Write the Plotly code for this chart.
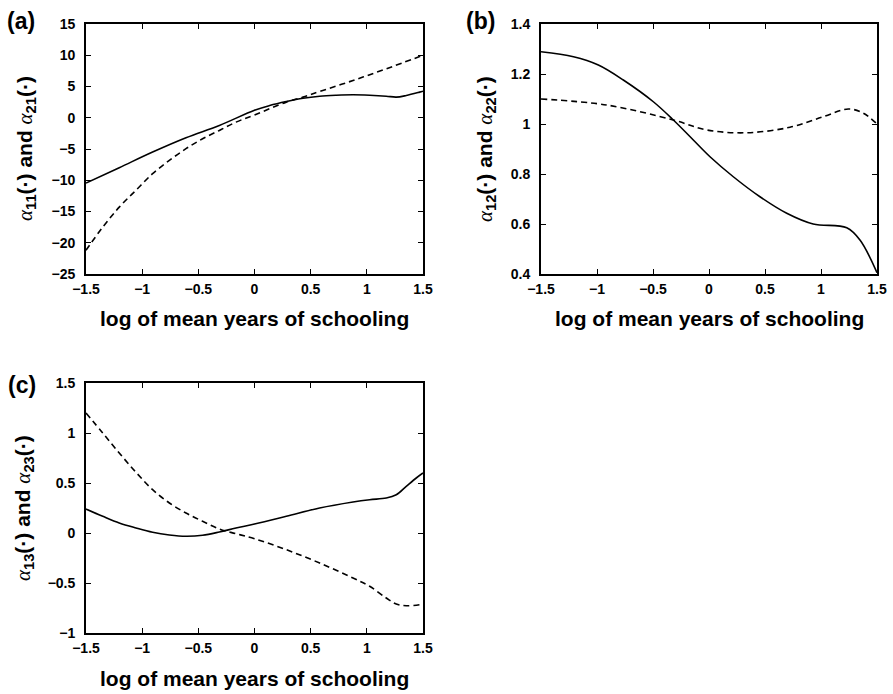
import plotly.graph_objects as go

# ---------------- data ----------------
# panel (a)
a_x_solid = [-1.5, -1.204, -0.907, -0.61, -0.313, 0.0, 0.135, 0.283, 0.432, 0.58, 0.728, 0.877, 1.025, 1.173, 1.262, 1.351, 1.47, 1.5]
a_y_solid = [-10.45, -7.99, -5.49, -3.2, -1.23, 1.2, 1.96, 2.6, 3.13, 3.45, 3.6, 3.67, 3.6, 3.45, 3.3, 3.56, 4.1, 4.25]
a_x_dash = [-1.5, -1.351, -1.204, -1.055, -0.907, -0.758, -0.61, -0.462, -0.313, -0.165, 0.0, 0.283, 0.432, 0.58, 0.877, 1.173, 1.5]
a_y_dash = [-21.2, -17.5, -14.3, -11.6, -8.95, -6.82, -4.95, -3.36, -2.03, -0.7, 0.45, 2.5, 3.3, 4.2, 5.96, 7.83, 10.0]

# panel (b)
b_x_solid = [-1.5, -1.21, -0.988, -0.765, -0.497, -0.318, -0.14, 0.009, 0.217, 0.455, 0.694, 0.93, 1.23, 1.348, 1.5]
b_y_solid = [1.289, 1.269, 1.236, 1.176, 1.089, 1.016, 0.936, 0.869, 0.789, 0.709, 0.643, 0.6, 0.585, 0.536, 0.405]
b_x_dash = [-1.5, -0.914, -0.318, -0.02, 0.336, 0.723, 1.02, 1.244, 1.378, 1.5]
b_y_dash = [1.1, 1.076, 1.016, 0.976, 0.965, 0.987, 1.029, 1.06, 1.043, 1.0]

# panel (c)
c_x_solid = [-1.5, -1.351, -1.204, -1.055, -0.907, -0.758, -0.61, -0.462, -0.313, -0.165, 0.0, 0.283, 0.58, 0.877, 1.025, 1.173, 1.262, 1.351, 1.44, 1.5]
c_y_solid = [0.24, 0.167, 0.1, 0.05, 0.007, -0.02, -0.033, -0.023, 0.01, 0.05, 0.09, 0.167, 0.25, 0.31, 0.333, 0.35, 0.383, 0.467, 0.55, 0.6]
c_x_dash = [-1.5, -1.351, -1.204, -1.055, -0.907, -0.758, -0.61, -0.462, -0.313, -0.165, 0.0, 0.283, 0.58, 0.877, 1.025, 1.173, 1.262, 1.351, 1.47, 1.5]
c_y_dash = [1.2, 1.0, 0.8, 0.607, 0.433, 0.3, 0.2, 0.117, 0.04, -0.007, -0.057, -0.167, -0.3, -0.45, -0.533, -0.65, -0.71, -0.727, -0.717, -0.71]

x_ticks = [-1.5, -1, -0.5, 0, 0.5, 1, 1.5]
x_ticktext = ["\u22121.5", "\u22121", "\u22120.5", "0", "0.5", "1", "1.5"]
a_yticks = [-25, -20, -15, -10, -5, 0, 5, 10, 15]
a_yticktext = ["\u221225", "\u221220", "\u221215", "\u221210", "\u22125", "0", "5", "10", "15"]
b_yticks = [0.4, 0.6, 0.8, 1.0, 1.2, 1.4]
b_yticktext = ["0.4", "0.6", "0.8", "1", "1.2", "1.4"]
c_yticks = [-1, -0.5, 0, 0.5, 1, 1.5]
c_yticktext = ["\u22121", "\u22120.5", "0", "0.5", "1", "1.5"]

x_title = "log of mean years of schooling"
panel_labels = ["(a)", "(b)", "(c)"]

# ---------------- figure ----------------
W, H = 893, 694
FONT = "Liberation Sans, Arial, sans-serif"

fig = go.Figure()

def add_pair(xs, ys, xd, yd, xa, ya):
    fig.add_trace(go.Scatter(x=xs, y=ys, mode="lines", xaxis=xa, yaxis=ya,
                             line=dict(color="black", width=1.6, shape="spline", smoothing=1.0),
                             showlegend=False, hoverinfo="skip"))
    fig.add_trace(go.Scatter(x=xd, y=yd, mode="lines", xaxis=xa, yaxis=ya,
                             line=dict(color="black", width=1.6, dash="6px,4px", shape="spline", smoothing=1.0),
                             showlegend=False, hoverinfo="skip"))

add_pair(a_x_solid, a_y_solid, a_x_dash, a_y_dash, "x", "y")
add_pair(b_x_solid, b_y_solid, b_x_dash, b_y_dash, "x2", "y2")
add_pair(c_x_solid, c_y_solid, c_x_dash, c_y_dash, "x3", "y3")

def px_x(p):
    return p / W

def px_y(p):
    return 1 - p / H

boxes = {
    # name: (left, right, top, bottom) in pixels
    "a": (86, 423, 24, 274),
    "b": (541, 877, 24, 274),
    "c": (86, 423, 383, 633),
}

tickfont = dict(family=FONT, size=14, color="black", weight="bold")

def axis_common():
    return dict(showline=True, linecolor="black", linewidth=1.8, mirror="ticks",
                ticks="inside", ticklen=5, tickwidth=1.2, tickcolor="black",
                showgrid=False, zeroline=False, tickfont=tickfont, automargin=False)

for key, xa, ya, yt, ytt in [("a", "xaxis", "yaxis", a_yticks, a_yticktext),
                               ("b", "xaxis2", "yaxis2", b_yticks, b_yticktext),
                               ("c", "xaxis3", "yaxis3", c_yticks, c_yticktext)]:
    l, r, t, b = boxes[key]
    anchor_y = "y" if key == "a" else ("y2" if key == "b" else "y3")
    anchor_x = "x" if key == "a" else ("x2" if key == "b" else "x3")
    fig.layout[xa] = dict(domain=[px_x(l), px_x(r)], anchor=anchor_y, range=[-1.5, 1.5],
                          tickvals=x_ticks, ticktext=x_ticktext, ticklabelstandoff=1, **axis_common())
    fig.layout[ya] = dict(domain=[px_y(b), px_y(t)], anchor=anchor_x, range=[yt[0], yt[-1]],
                          tickvals=yt, ticktext=ytt, ticklabelstandoff=6, **axis_common())

annotations = []
titlefont = dict(family=FONT, size=21, color="black", weight="bold")
ytitles = {
    "a": ("11", "21"),
    "b": ("12", "22"),
    "c": ("13", "23"),
}
alpha = "<span style='font-family:Liberation Serif;font-style:italic;font-weight:normal'>\u03b1</span>"
ytitle_x = {"a": 26, "b": 486, "c": 24}
xtitle_y = {"a": 319, "b": 319, "c": 678}
label_pos = {"a": (21, 21), "b": (480, 21), "c": (22, 385)}

for i, key in enumerate(["a", "b", "c"]):
    l, r, t, b = boxes[key]
    s1, s2 = ytitles[key]
    txt = f"{alpha}<sub>{s1}</sub>(\u00b7) and {alpha}<sub>{s2}</sub>(\u00b7)"
    annotations.append(dict(text=txt, x=px_x(ytitle_x[key]), y=px_y((t + b) / 2), xref="paper", yref="paper",
                            xanchor="center", yanchor="middle", textangle=-90, showarrow=False, font=titlefont))
    annotations.append(dict(text=x_title, x=px_x((l + r) / 2), y=px_y(xtitle_y[key]), xref="paper", yref="paper",
                            xanchor="center", yanchor="middle", showarrow=False, font=titlefont))
    lx, ly = label_pos[key]
    annotations.append(dict(text=panel_labels[i], x=px_x(lx), y=px_y(ly), xref="paper", yref="paper",
                            xanchor="center", yanchor="middle", showarrow=False,
                            font=dict(family=FONT, size=23, color="black", weight="bold")))

fig.update_layout(width=W, height=H, margin=dict(l=0, r=0, t=0, b=0, autoexpand=False),
                  paper_bgcolor="white", plot_bgcolor="white", annotations=annotations)

fig.write_html("out.html", config={"displayModeBar": False},
               post_script="document.body.style.margin='0px';")
